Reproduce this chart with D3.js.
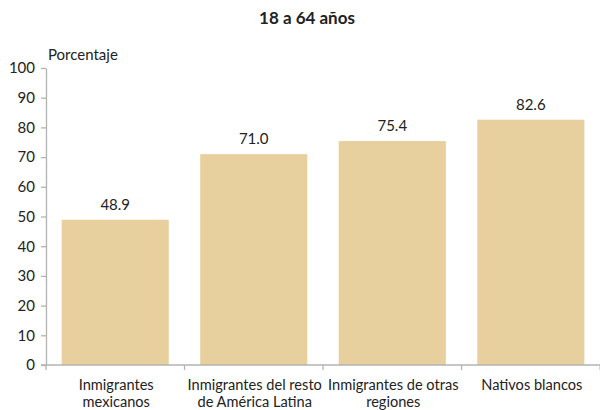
<!DOCTYPE html>
<html>
<head>
<meta charset="utf-8">
<script src="https://cdn.jsdelivr.net/npm/d3@7"></script>
<style>
  body { margin: 0; background: #fff; }
  svg text { font-family: Lato, "Open Sans", sans-serif; fill: #222; }
</style>
</head>
<body>
<svg id="chart" width="600" height="410"></svg>
<script>
  var categories = [
    ['Inmigrantes', 'mexicanos'],
    ['Inmigrantes del resto', 'de América Latina'],
    ['Inmigrantes de otras', 'regiones'],
    ['Nativos blancos']
  ];
  var values = [48.9, 71.0, 75.4, 82.6];
  var yTicks = [0, 10, 20, 30, 40, 50, 60, 70, 80, 90, 100];

  var svg = d3.select('#chart');
  var area = { left: 46, right: 600, top: 68, bottom: 365 };
  var axisColor = '#b3b3b3';

  var x = d3.scaleBand()
    .domain(d3.range(values.length))
    .range([area.left, area.right])
    .paddingInner(0.227)
    .paddingOuter(0.113);

  var y = d3.scaleLinear()
    .domain([0, 100])
    .range([area.bottom, area.top]);

  // title
  svg.append('text')
    .attr('x', 307).attr('y', 24)
    .attr('text-anchor', 'middle')
    .style('font-size', '17px')
    .style('font-weight', 'bold')
    .text('18 a 64 años');

  svg.append('text')
    .attr('x', 48).attr('y', 60)
    .style('font-size', '15px')
    .text('Porcentaje');

  // bars
  svg.append('g').selectAll('rect')
    .data(values)
    .enter().append('rect')
      .attr('x', function(d, i) { return x(i); })
      .attr('y', function(d) { return y(d); })
      .attr('width', x.bandwidth())
      .attr('height', function(d) { return y(0) - y(d); })
      .attr('fill', '#e8d09e');

  svg.append('g').selectAll('text')
    .data(values)
    .enter().append('text')
      .attr('x', function(d, i) { return x(i) + x.bandwidth() / 2; })
      .attr('y', function(d) { return y(d) - 10; })
      .attr('text-anchor', 'middle')
      .style('font-size', '15px')
      .text(function(d) { return d.toFixed(1); });

  // y axis
  var yAxis = d3.axisLeft(y).tickValues(yTicks).tickSize(5).tickSizeOuter(0).tickPadding(6);
  var gy = svg.append('g')
    .attr('transform', 'translate(' + area.left + ',0)')
    .call(yAxis);
  gy.selectAll('path, line').attr('stroke', axisColor).attr('stroke-width', 1.3);
  gy.selectAll('text').style('font-size', '15px').style('font-family', null);

  // x axis with ticks at band boundaries
  var gx = svg.append('g').attr('transform', 'translate(0,' + area.bottom + ')');
  gx.append('line')
    .attr('x1', area.left - 5).attr('x2', area.right)
    .attr('stroke', axisColor).attr('stroke-width', 1.3);
  var step = x.step();
  var start = x(0) - step * x.paddingOuter();
  gx.selectAll('line.tick')
    .data(d3.range(values.length + 1))
    .enter().append('line')
      .attr('class', 'tick')
      .attr('x1', function(i) { return start + i * step; })
      .attr('x2', function(i) { return start + i * step; })
      .attr('y1', 0).attr('y2', 5)
      .attr('stroke', axisColor).attr('stroke-width', 1.3);

  var labels = gx.selectAll('text.cat')
    .data(categories)
    .enter().append('text')
      .attr('class', 'cat')
      .attr('text-anchor', 'middle')
      .style('font-size', '14.6px')
      .attr('transform', function(d, i) { return 'translate(' + (x(i) + x.bandwidth() / 2 + 1) + ',0)'; });
  labels.selectAll('tspan')
    .data(function(d) { return d; })
    .enter().append('tspan')
      .attr('x', 0)
      .attr('y', function(d, j) { return 25 + j * 17; })
      .text(function(d) { return d; });
</script>
</body>
</html>
